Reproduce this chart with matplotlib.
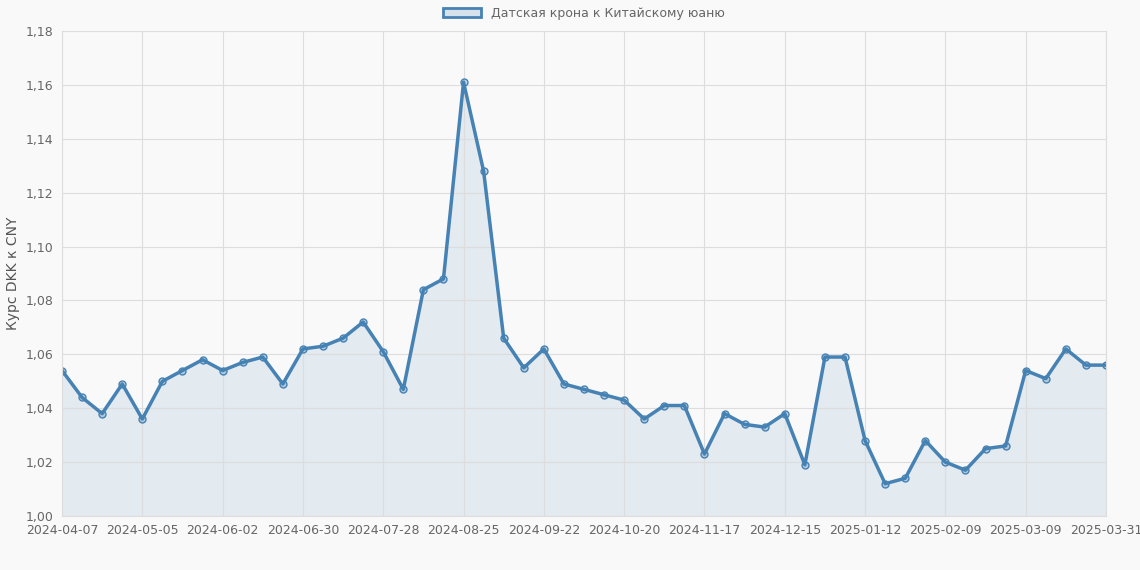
import matplotlib
matplotlib.use("Agg")
import matplotlib.pyplot as plt
import pandas as pd

dates = [d.strftime("%Y-%m-%d") for d in pd.date_range("2024-04-07", periods=52, freq="7D")] + ["2025-03-31"]
values = [1.054,1.044,1.038,1.049,1.036,1.050,1.054,1.058,1.054,1.057,1.059,1.049,1.062,1.063,1.066,1.072,
          1.061,1.047,1.084,1.088,1.161,1.128,1.066,1.055,1.062,1.049,1.047,1.045,1.043,1.036,1.041,1.041,
          1.023,1.038,1.034,1.033,1.038,1.019,1.059,1.059,1.028,1.012,1.014,1.028,1.020,1.017,1.025,1.026,
          1.054,1.051,1.062,1.056,1.056]
label = "Датская крона к Китайскому юаню"

fig = plt.figure(figsize=(11.4, 5.7), dpi=100, facecolor="#f9f9f9")
ax = fig.add_axes([62/1140, 1-516/570, (1106-62)/1140, (516-31)/570])
ax.set_facecolor("#f9f9f9")
x = list(range(len(values)))
c = "#4682b4"
ax.fill_between(x, 1.0, values, color=c, alpha=0.12, lw=0)
ax.plot(x, values, color=c, lw=2.5, marker="o", ms=5, mfc=(0.27,0.51,0.71,0.3), mec=c, mew=1, label=label)
ax.set_xlim(0, len(values)-1)
ax.set_ylim(1.0, 1.18)
ticks = list(range(0, 49, 4)) + [52]
ax.set_xticks(ticks)
ax.set_xticklabels([dates[i] for i in ticks])
yt = [1.0 + 0.02*i for i in range(10)]
ax.set_yticks(yt)
ax.set_yticklabels([f"{v:.2f}".replace(".", ",") for v in yt])
ax.tick_params(colors="#666666", labelsize=9, length=0, pad=6)
ax.grid(True, color="#dddddd", lw=0.8)
for s in ax.spines.values():
    s.set_color("#dddddd")
ax.set_ylabel("Курс DKK к CNY", color="#555555", fontsize=10)
from matplotlib.patches import Patch
ax.legend(handles=[Patch(facecolor=(0.27,0.51,0.71,0.2), edgecolor=c, lw=2, label=label)],
          loc="lower center", bbox_to_anchor=(0.5, 1.0), frameon=False, fontsize=9,
          labelcolor="#666666", handlelength=3)
fig.savefig("out.png", dpi=100, facecolor=fig.get_facecolor())
